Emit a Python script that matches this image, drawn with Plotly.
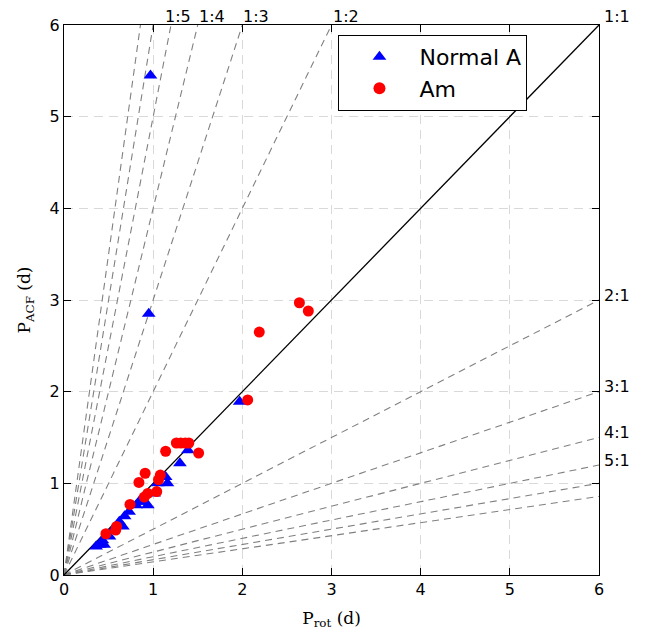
import plotly.graph_objects as go

# Normal A (blue triangles)
normal_prot = [0.36, 0.40, 0.43, 0.45, 0.51, 0.55, 0.62, 0.66, 0.68, 0.73, 0.81, 0.84, 0.90,
               0.94, 1.01, 1.05, 1.14, 1.16, 1.30, 1.39, 1.97, 0.95, 0.97]
normal_acf = [0.31, 0.33, 0.38, 0.33, 0.42, 0.49, 0.58, 0.53, 0.64, 0.69, 0.76, 0.80, 0.80,
              0.76, 0.89, 1.00, 1.07, 1.00, 1.22, 1.36, 1.89, 2.85, 5.45]

# Am (red circles)
am_prot = [0.47, 0.58, 0.59, 0.74, 0.84, 0.90, 0.91, 0.94, 1.04, 1.06, 1.08, 1.14, 1.26,
           1.31, 1.36, 1.40, 1.51, 2.06, 2.19, 2.64, 2.74]
am_acf = [0.45, 0.49, 0.53, 0.77, 1.01, 0.85, 1.11, 0.89, 0.91, 1.04, 1.09, 1.35, 1.44,
          1.44, 1.44, 1.44, 1.33, 1.91, 2.65, 2.97, 2.88]

# ratio lines P_ACF : P_rot
ratios_up = [2, 3, 4, 5, 6, 7]      # 1:n  -> y = n x
ratios_down = [2, 3, 4, 5, 6, 7]    # n:1  -> y = x / n
top_labels = {2: 3.0, 3: 2.0, 4: 1.5, 5: 1.12}
right_labels = [2, 3, 4, 5]
LIM = 6

fig = go.Figure()

dash_style = dict(color="#808080", width=1.1, dash="7px,5px")
for n in ratios_up:
    fig.add_trace(go.Scatter(x=[0, LIM / n], y=[0, LIM], mode="lines",
                             line=dash_style, showlegend=False, hoverinfo="skip"))
for n in ratios_down:
    fig.add_trace(go.Scatter(x=[0, LIM], y=[0, LIM / n], mode="lines",
                             line=dash_style, showlegend=False, hoverinfo="skip"))
fig.add_trace(go.Scatter(x=[0, LIM], y=[0, LIM], mode="lines",
                         line=dict(color="black", width=1.3), showlegend=False, hoverinfo="skip"))

fig.add_trace(go.Scatter(x=normal_prot, y=normal_acf, mode="markers", name="Normal A",
                         marker=dict(symbol="triangle-up", color="blue", size=12,
                                     line=dict(width=0))))
fig.add_trace(go.Scatter(x=am_prot, y=am_acf, mode="markers", name="Am",
                         marker=dict(symbol="circle", color="red", size=11,
                                     line=dict(width=0))))

lab_font = dict(family="DejaVu Sans", size=16, color="black")
ann = []
ann.append(dict(x=LIM, y=LIM, text="1:1", xanchor="left", yanchor="bottom",
                xshift=4, yshift=-2, borderpad=0, showarrow=False, font=lab_font))
for n, xv in top_labels.items():
    ann.append(dict(x=xv, y=LIM, text=f"1:{n}", xanchor="left", yanchor="bottom",
                    xshift=0, yshift=-2, borderpad=0, showarrow=False, font=lab_font))
for n in right_labels:
    ann.append(dict(x=LIM, y=LIM / n, text=f"{n}:1", xanchor="left", yanchor="middle",
                    xshift=3, yshift=5, showarrow=False, font=lab_font))
fig.update_layout(annotations=ann)

axis_common = dict(range=[0, LIM], tickvals=[0, 1, 2, 3, 4, 5, 6], ticks="inside",
                   ticklen=7, tickcolor="black", tickwidth=1, showline=True,
                   linecolor="black", linewidth=1.2, mirror="ticks",
                   showgrid=True, gridcolor="#d9d9d9", griddash="9px,6px", gridwidth=1,
                   zeroline=False, automargin=False,
                   tickfont=dict(family="DejaVu Sans", size=16, color="black"))

fig.update_xaxes(**axis_common,
                 title=dict(text="P<sub>rot</sub> (d)",
                            font=dict(family="DejaVu Serif", size=17, color="black"),
                            standoff=13))
fig.update_yaxes(**axis_common,
                 title=dict(text="P<sub>ACF</sub> (d)",
                            font=dict(family="DejaVu Serif", size=17, color="black"),
                            standoff=14))

fig.update_layout(
    width=658, height=632,
    margin=dict(l=56, r=67, t=17, b=65),
    plot_bgcolor="white", paper_bgcolor="white",
    legend=dict(x=0.513, y=0.982, xanchor="left", yanchor="top",
                bordercolor="black", borderwidth=1, bgcolor="white",
                font=dict(family="DejaVu Sans", size=22, color="black"),
                itemsizing="constant", itemwidth=70),
)

fig.write_html("out.html")
